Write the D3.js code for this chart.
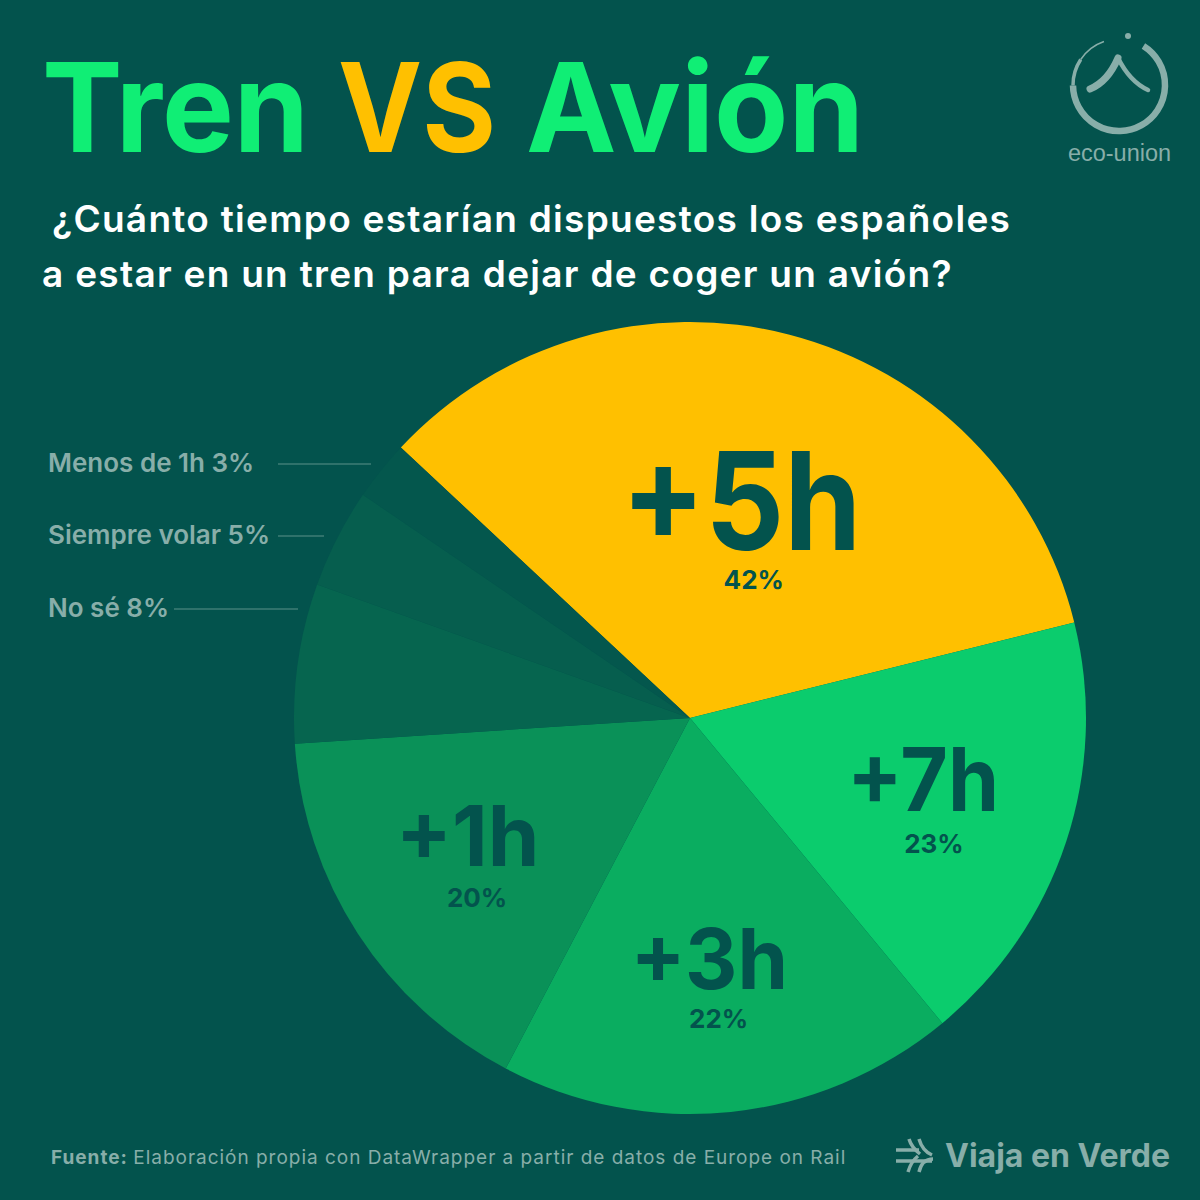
<!DOCTYPE html>
<html>
<head>
<meta charset="utf-8">
<script src="https://cdn.jsdelivr.net/npm/d3@7"></script>
<style>
html, body { margin: 0; padding: 0; background: #03534d; }
svg { display: block; }
text { font-family: Inter, "Noto Sans", sans-serif; }
</style>
</head>
<body>
<div id="chart"></div>
<script>
// data
const categories = ["+5h", "+7h", "+3h", "+1h", "No sé", "Siempre volar", "Menos de 1h"]
// printed percentages
const values = [42, 23, 22, 20, 8, 5, 3]
// slice sizes as drawn: in the picture the +7h and +3h wedges are swapped against their labels
const sliceSizes = [42, 22, 23, 20, 8, 5, 3]
const colors = ["#ffc000", "#0bcc6d", "#0aad60", "#0a9158", "#06654f", "#065e4e", "#04574d"]
const titleWords = ["Tren", "VS", "Avión"]
const subtitle = ["¿Cuánto tiempo estarían dispuestos los españoles", "a estar en un tren para dejar de coger un avión?"]

const BG = "#03534d"
const MUTED = "#88aea9"

const svg = d3.select("#chart").append("svg")
    .attr("width", 1200)
    .attr("height", 1200)

svg.append("rect").attr("width", 1200).attr("height", 1200).attr("fill", BG)

// title, each word fitted to its width
const titleStyle = [
    { x: 42, w: 267, fill: "#10ee75" },
    { x: 338, w: 158, fill: "#ffc000" },
    { x: 526, w: 338, fill: "#10ee75" },
]
svg.selectAll(".title")
    .data(titleWords)
    .enter()
    .append("text")
    .attr("class", "title")
    .attr("x", (d, i) => titleStyle[i].x)
    .attr("y", 152)
    .attr("font-size", 124)
    .attr("font-weight", 700)
    .attr("textLength", (d, i) => titleStyle[i].w)
    .attr("lengthAdjust", "spacingAndGlyphs")
    .attr("fill", (d, i) => titleStyle[i].fill)
    .text(d => d)

// subtitle
svg.selectAll(".sub")
    .data(subtitle)
    .enter()
    .append("text")
    .attr("class", "sub")
    .attr("x", (d, i) => i == 0 ? 52 : 42)
    .attr("y", (d, i) => 232 + i * 55)
    .attr("font-size", 37)
    .attr("font-weight", 600)
    .attr("letter-spacing", 1.28)
    .attr("fill", "#ffffff")
    .text(d => d)

// pie
const cx = 690, cy = 718, radius = 396
const start = -46.9 * Math.PI / 180
const pie = d3.pie().sort(null).startAngle(start).endAngle(start + 2 * Math.PI)
const arcs = pie(sliceSizes)
const arc = d3.arc().innerRadius(0).outerRadius(radius)

const g = svg.append("g").attr("transform", `translate(${cx},${cy})`)
g.selectAll("path")
    .data(arcs)
    .enter()
    .append("path")
    .attr("d", arc)
    .attr("fill", (d, i) => colors[i])

// labels on the big slices
const bigStyle = [
    { r: 210, size: 136, w: 240, dx: -1.5, dy: 35, pctDx: 12.5, gap: 39 },
    { r: 250, size: 88, w: 152, dx: -4.5, dy: 15, pctDx: 11, gap: 42 },
    { r: 258, size: 84, w: 157.5, dx: -7.5, dy: 14.5, pctDx: 9.5, gap: 39 },
    { r: 258, size: 84, w: 143.7, dx: -6, dy: 7.5, pctDx: 9.5, gap: 41 },
]
bigStyle.forEach((s, i) => {
    const [x, y] = d3.arc().innerRadius(s.r).outerRadius(s.r).centroid(arcs[i])
    g.append("text")
        .attr("x", x + s.dx)
        .attr("y", y + s.dy)
        .attr("text-anchor", "middle")
        .attr("font-size", s.size)
        .attr("font-weight", 700)
        .attr("textLength", s.w)
        .attr("lengthAdjust", "spacingAndGlyphs")
        .attr("fill", BG)
        .text(categories[i])
    g.append("text")
        .attr("x", x + s.dx + s.pctDx)
        .attr("y", y + s.dy + s.gap)
        .attr("text-anchor", "middle")
        .attr("font-size", 26)
        .attr("font-weight", 700)
        .attr("fill", BG)
        .text(values[i] + "%")
})

// small slices are labelled outside, with a leader line
const outside = [
    { i: 6, y: 472, x1: 278, x2: 371 },
    { i: 5, y: 544, x1: 278, x2: 324 },
    { i: 4, y: 617, x1: 174, x2: 298 },
]
outside.forEach(o => {
    svg.append("text")
        .attr("x", 48)
        .attr("y", o.y)
        .attr("font-size", 26)
        .attr("font-weight", 600)
        .attr("fill", MUTED)
        .text(categories[o.i] + " " + values[o.i] + "%")
    svg.append("line")
        .attr("x1", o.x1)
        .attr("x2", o.x2)
        .attr("y1", o.y - 8)
        .attr("y2", o.y - 8)
        .attr("stroke", "#3f7d76")
        .attr("stroke-width", 1.5)
})

// footer
const foot = svg.append("text")
    .attr("x", 51)
    .attr("y", 1164)
    .attr("font-size", 19)
    .attr("letter-spacing", 0.98)
    .attr("fill", MUTED)
foot.append("tspan").attr("font-weight", 700).text("Fuente: ")
foot.append("tspan").attr("font-weight", 400).text("Elaboración propia con DataWrapper a partir de datos de Europe on Rail")

svg.append("text")
    .attr("x", 945)
    .attr("y", 1167)
    .attr("font-size", 32)
    .attr("font-weight", 700)
    .attr("fill", MUTED)
    .text("Viaja en Verde")

// arrows icon of Viaja en Verde
const icon = svg.append("g")
    .attr("fill", "none")
    .attr("stroke", MUTED)
    .attr("stroke-width", 3.5)
icon.append("path").attr("d", "M896,1150H919M896,1161H932")
icon.append("path").attr("d", "M919,1139C921,1146 925,1152 932,1155")
icon.append("path").attr("d", "M909,1139C911,1146 915,1150 920,1154")
icon.append("path").attr("d", "M919,1172C921,1163 926,1159 933,1159")
icon.append("path").attr("d", "M908,1172C910,1165 913,1160 918,1156")

// eco-union logo
const logo = svg.append("g").attr("fill", "none").attr("stroke", MUTED).attr("stroke-linecap", "round")
const ring = d3.arc().innerRadius(46).outerRadius(46)
const ringParts = [
    { startAngle: 0.56, endAngle: 4.7, width: 6.5 },
    { startAngle: 4.7, endAngle: 5.3, width: 3.5 },
    { startAngle: 5.3, endAngle: 5.95, width: 1.5 },
]
ringParts.forEach(p => {
    logo.append("path")
        .attr("transform", "translate(1119,85)")
        .attr("stroke-width", p.width)
        .attr("d", ring(p))
})
logo.append("path")
    .attr("stroke-width", 7)
    .attr("d", "M1090,89C1102,84 1112,72 1118,58")
logo.append("path")
    .attr("stroke-width", 4.5)
    .attr("d", "M1118,58C1125,72 1135,84 1148,90")
logo.append("circle").attr("cx", 1128).attr("cy", 36).attr("r", 3).attr("fill", MUTED).attr("stroke", "none")

svg.append("text")
    .attr("x", 1119.5)
    .attr("y", 161)
    .attr("text-anchor", "middle")
    .attr("font-size", 23.5)
    .attr("fill", MUTED)
    .style("font-family", "'Liberation Sans', sans-serif")
    .text("eco-union")
</script>
</body>
</html>
